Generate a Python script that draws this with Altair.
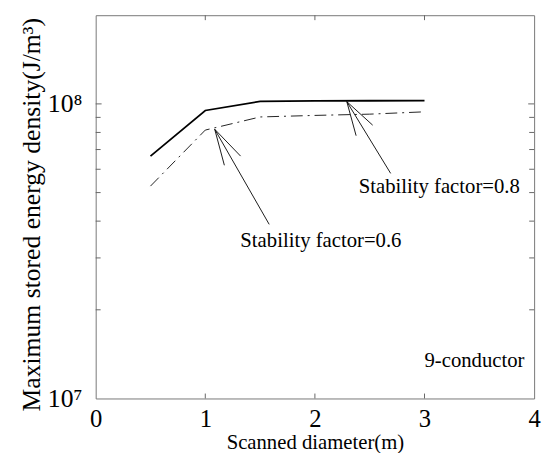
import altair as alt
import pandas as pd

# ---- data ----
diam = [0.5, 1.0, 1.5, 2.0, 2.5, 3.0]
sf08 = [6.65e7, 9.5e7, 1.02e8, 1.024e8, 1.025e8, 1.026e8]
sf06 = [5.26e7, 8.15e7, 9.03e7, 9.14e7, 9.23e7, 9.40e7]

# annotation arrows (shaft + two head arms), in data units
seg_x = [1.583, 1.174, 1.322, 2.691, 2.376, 2.527]
seg_y = [3.9e7, 6.19e7, 6.65e7, 5.81e7, 7.8e7, 8.47e7]
seg_x2 = [1.086, 1.086, 1.086, 2.291, 2.291, 2.291]
seg_y2 = [8.2e7, 8.2e7, 8.2e7, 1.018e8, 1.018e8, 1.018e8]

labels = ["Stability factor=0.6", "Stability factor=0.8", "9-conductor"]
label_x = [1.32, 2.40, 3.0]
label_y = [3.26e7, 4.98e7, 1.28e7]
label_size = [21, 21, 21]

minor_y = [2e7, 3e7, 4e7, 5e7, 6e7, 7e7, 8e7, 9e7]
major_x = [1, 2, 3]

W, H = 445, 389
FONT = "Liberation Serif"

lines = pd.DataFrame({
    "d": diam * 2,
    "e": sf08 + sf06,
    "s": ["0.8"] * len(diam) + ["0.6"] * len(diam),
})

xs = alt.Scale(domain=[0, 4], nice=False)
ys = alt.Scale(type="log", domain=[1e7, 2e8], nice=False)

xax = alt.Axis(values=[0, 1, 2, 3, 4], format="d", ticks=False, domain=False,
               grid=False, labelFontSize=25, labelPadding=8, labelFont=FONT,
               labelColor="black", title="Scanned diameter(m)",
               titleFontSize=21, titleFont=FONT, titleFontWeight="normal",
               titleColor="black", titleBaseline="alphabetic",
               titleX=W / 2, titleY=51, labelFlush=False)
yax = alt.Axis(values=[1e7, 1e8], ticks=False, domain=False, grid=False,
               labelExpr="datum.value == 1e7 ? '10⁷' : (datum.value == 1e8 ? '10⁸' : '')",
               labelFontSize=26, labelPadding=14, labelFont=FONT,
               labelColor="black",
               title="Maximum stored energy density(J/m³)",
               titleFontSize=26, titleFont=FONT, titleFontWeight="normal",
               titleColor="black", titleBaseline="middle",
               titleX=-65, titleY=202)

solid = alt.Chart(lines[lines.s == "0.8"]).mark_line(
    color="black", strokeWidth=1.8).encode(
    x=alt.X("d:Q", scale=xs, axis=xax),
    y=alt.Y("e:Q", scale=ys, axis=yax),
)
dashdot = alt.Chart(lines[lines.s == "0.6"]).mark_line(
    color="#222", strokeWidth=1, strokeDash=[12, 5, 2, 5]).encode(
    x=alt.X("d:Q", scale=xs),
    y=alt.Y("e:Q", scale=ys),
)

segs = pd.DataFrame({"x": seg_x, "y": seg_y, "x2": seg_x2, "y2": seg_y2})
arrows = alt.Chart(segs).mark_rule(color="black", strokeWidth=0.9).encode(
    x=alt.X("x:Q", scale=xs), y=alt.Y("y:Q", scale=ys),
    x2="x2:Q", y2="y2:Q",
)

texts = pd.DataFrame({"t": labels, "x": label_x, "y": label_y, "s": label_size})
text = alt.Chart(texts).mark_text(
    align="left", baseline="alphabetic", font=FONT, color="black").encode(
    x=alt.X("x:Q", scale=xs), y=alt.Y("y:Q", scale=ys), text="t:N",
    size=alt.Size("s:Q", scale=None, legend=None),
)

my = pd.DataFrame({"y": minor_y})
ltick = alt.Chart(my).mark_rule(color="#666", strokeWidth=1).encode(
    y=alt.Y("y:Q", scale=ys), x=alt.value(0), x2=alt.value(5))
rtick = alt.Chart(my).mark_rule(color="#666", strokeWidth=1).encode(
    y=alt.Y("y:Q", scale=ys), x=alt.value(W - 5), x2=alt.value(W))
mx = pd.DataFrame({"x": major_x})
btick = alt.Chart(mx).mark_rule(color="#666", strokeWidth=1).encode(
    x=alt.X("x:Q", scale=xs), y=alt.value(H), y2=alt.value(H - 5))
ttick = alt.Chart(mx).mark_rule(color="#666", strokeWidth=1).encode(
    x=alt.X("x:Q", scale=xs), y=alt.value(0), y2=alt.value(5))
y8tick = alt.Chart(pd.DataFrame({"y": [1e8]})).mark_rule(color="#666").encode(
    y=alt.Y("y:Q", scale=ys), x=alt.value(0), x2=alt.value(6))
y8rtick = alt.Chart(pd.DataFrame({"y": [1e8]})).mark_rule(color="#666").encode(
    y=alt.Y("y:Q", scale=ys), x=alt.value(W - 6), x2=alt.value(W))

chart = alt.layer(
    solid, dashdot, arrows, text, ltick, rtick, btick, ttick, y8tick, y8rtick
).properties(
    width=W, height=H,
    autosize=alt.AutoSizeParams(type="none"),
    padding={"left": 89, "top": 4, "right": 8, "bottom": 52},
    background="white",
).configure_view(stroke="#777", strokeWidth=1)

chart.save("out.html", embed_options={"renderer": "svg", "actions": False})
